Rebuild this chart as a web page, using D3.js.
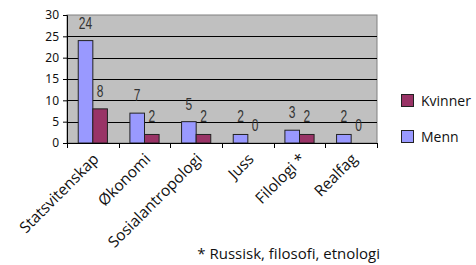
<!DOCTYPE html>
<html><head><meta charset="utf-8">
<script src="https://cdn.jsdelivr.net/npm/d3@7/dist/d3.min.js"></script>
<style>body{margin:0;background:#fff}svg{display:block}</style>
</head><body>
<script>
const categories = ["Statsvitenskap","Økonomi","Sosialantropologi","Juss","Filologi *","Realfag"];
const menn = [24,7,5,2,3,2];
const kvinner = [8,2,2,0,2,0];
const yTicks = [0,5,10,15,20,25,30];
const seriesNames = ["Menn","Kvinner"];
const colors = {Menn:"#9999FF", Kvinner:"#993366"};
const footnote = "* Russisk, filosofi, etnologi";

const W=476,H=265;
const L=67,R=377,T=15,B=143;
const svg=d3.select("body").append("svg").attr("width",W).attr("height",H);
const y=d3.scaleLinear().domain([0,30]).range([B,T]);
const x0=d3.scaleBand().domain(categories).range([L,R]).padding(0);
const x1=d3.scaleBand().domain(seriesNames).range([0,x0.bandwidth()]).paddingInner(0).paddingOuter(0.77);

svg.append("rect").attr("x",L).attr("y",T).attr("width",R-L).attr("height",B-T).attr("fill","#C0C0C0").attr("stroke","#808080");
svg.append("g").selectAll("line").data(yTicks.filter(d=>d>0&&d<30)).join("line")
  .attr("x1",L).attr("x2",R).attr("y1",d=>Math.round(y(d))+0.5).attr("y2",d=>Math.round(y(d))+0.5).attr("stroke","#000");

const data=categories.map((c,i)=>({c,vals:[{s:"Menn",v:menn[i]},{s:"Kvinner",v:kvinner[i]}]}));
const g=svg.append("g").selectAll("g").data(data).join("g").attr("transform",d=>`translate(${x0(d.c)},0)`);
g.selectAll("rect").data(d=>d.vals).join("rect")
  .attr("x",d=>x1(d.s)).attr("y",d=>y(d.v)).attr("width",x1.bandwidth()).attr("height",d=>y(0)-y(d.v))
  .attr("fill",d=>colors[d.s]).attr("stroke","#222").attr("stroke-width",1);
g.selectAll("g.lab").data(d=>d.vals).join("g").attr("class","lab")
  .attr("transform",d=>`translate(${x1(d.s)+x1.bandwidth()/2},${y(d.v)-12})`)
  .append("text").attr("transform","scale(0.75,1)").attr("text-anchor","middle")
  .attr("font-family","Liberation Sans, Arial, sans-serif").attr("font-size",16).attr("fill","#333").text(d=>d.v);

// y axis
const ya=svg.append("g").attr("transform",`translate(${L},0)`).call(d3.axisLeft(y).tickValues(yTicks).tickSize(4).tickPadding(4));
ya.select(".domain").attr("stroke","#000");
ya.selectAll("line").attr("stroke","#000");
ya.selectAll("text").attr("font-family","Noto Sans, sans-serif").attr("font-size",12).attr("fill","#111");
// x axis
const xa=svg.append("g").attr("transform",`translate(0,${B})`);
xa.append("line").attr("x1",L).attr("x2",R).attr("y1",0.5).attr("y2",0.5).attr("stroke","#000");
const bounds=categories.map(c=>x0(c)).concat([R]);
xa.selectAll("line.t").data(bounds).join("line").attr("class","t")
  .attr("x1",d=>Math.round(d)+0.5).attr("x2",d=>Math.round(d)+0.5).attr("y1",0).attr("y2",5).attr("stroke","#000");
xa.selectAll("text").data(categories).join("text")
  .attr("transform",d=>`translate(${x0(d)+x0.bandwidth()/2+7},${17}) rotate(-45)`)
  .attr("text-anchor","end").attr("font-family","Open Sans, sans-serif").attr("font-size",15.5).attr("fill","#111").text(d=>d);

// legend
const leg=svg.append("g").selectAll("g").data(["Kvinner","Menn"]).join("g")
  .attr("transform",(d,i)=>`translate(401.5,${94.5+i*36})`);
leg.append("rect").attr("width",12).attr("height",12).attr("fill",d=>colors[d]).attr("stroke","#222");
leg.append("text").attr("x",19.5).attr("y",11.5).attr("font-family","Open Sans, sans-serif").attr("font-size",14).attr("fill","#111").text(d=>d);

svg.append("text").attr("x",380).attr("y",259).attr("text-anchor","end").attr("font-family","Open Sans, sans-serif").attr("font-size",15).attr("fill","#111").text(footnote);
</script>
</body></html>
